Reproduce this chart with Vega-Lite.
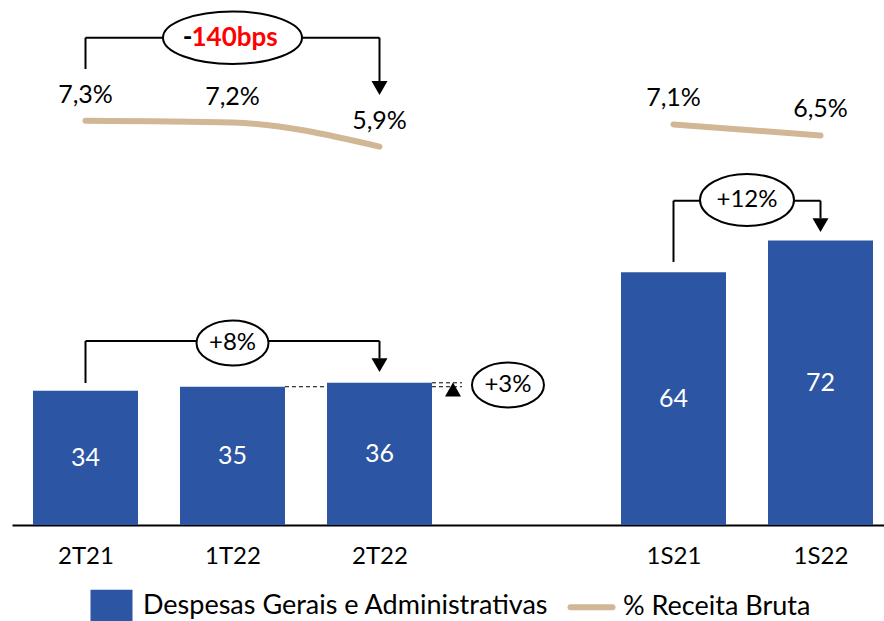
{
  "$schema": "https://vega.github.io/schema/vega-lite/v6.json",
  "width": 872,
  "height": 525,
  "autosize": {"type": "none"},
  "padding": {"left": 12, "top": 0, "right": 0, "bottom": 96},
  "background": "white",
  "config": {
    "view": {"stroke": null},
    "font": "Lato",
    "locale": {"number": {"decimal": ",", "thousands": ".", "grouping": [3], "currency": ["R$", ""]}}
  },
  "datasets": {
    "periodos": [
      {"periodo": "2T21", "ordem": 0, "despesas": 34, "receita": 0.073, "grupo": "trimestre"},
      {"periodo": "1T22", "ordem": 1, "despesas": 35, "receita": 0.072, "grupo": "trimestre"},
      {"periodo": "2T22", "ordem": 2, "despesas": 36, "receita": 0.059, "grupo": "trimestre"},
      {"periodo": "1S21", "ordem": 4, "despesas": 64, "receita": 0.071, "grupo": "semestre"},
      {"periodo": "1S22", "ordem": 5, "despesas": 72, "receita": 0.065, "grupo": "semestre"}
    ],
    "segmentos": [
      {"ordem": 0, "ordem_fim": 2, "nivel": 123.37, "nivel_fim": 123.37},
      {"ordem": 0, "ordem_fim": 0, "nivel": 123.37, "nivel_fim": 115.44},
      {"ordem": 2, "ordem_fim": 2, "nivel": 123.37, "nivel_fim": 112.4},
      {"ordem": 0, "ordem_fim": 2, "nivel": 46.58, "nivel_fim": 46.58},
      {"ordem": 0, "ordem_fim": 0, "nivel": 46.58, "nivel_fim": 35.95},
      {"ordem": 2, "ordem_fim": 2, "nivel": 46.58, "nivel_fim": 42.2},
      {"ordem": 4, "ordem_fim": 5, "nivel": 82.1, "nivel_fim": 82.1},
      {"ordem": 4, "ordem_fim": 4, "nivel": 82.1, "nivel_fim": 66.6},
      {"ordem": 5, "ordem_fim": 5, "nivel": 82.1, "nivel_fim": 77.67}
    ],
    "tracejado": [
      {"ordem": 1.357, "ordem_fim": 2.561, "nivel": 35},
      {"ordem": 2.357, "ordem_fim": 2.561, "nivel": 36}
    ],
    "setas_baixo": [
      {"ordem": 2, "nivel": 110.63},
      {"ordem": 2, "nivel": 40.48},
      {"ordem": 5, "nivel": 75.92}
    ],
    "setas_cima": [
      {"ordem": 2.5, "nivel": 34.3}
    ],
    "bolha_bps": [{"ordem": 1, "nivel": 123.37}],
    "bolha_12": [{"ordem": 4.5, "nivel": 82.28, "rotulo": "+12%"}],
    "bolhas_pequenas": [
      {"ordem": 1, "nivel": 46.08, "rotulo": "+8%"},
      {"ordem": 2.874, "nivel": 35.44, "rotulo": "+3%"}
    ]
  },
  "encoding": {
    "x": {
      "field": "ordem",
      "type": "quantitative",
      "scale": {"domain": [-0.5, 5.432], "nice": false, "zero": false, "padding": 0},
      "axis": {
        "values": [0, 1, 2, 4, 5],
        "labelExpr": "['2T21','1T22','2T22','','1S21','1S22'][datum.value]",
        "title": null,
        "grid": false,
        "ticks": false,
        "tickSize": 0,
        "domainColor": "black",
        "domainWidth": 2,
        "labelFontSize": 24,
        "labelFont": "Lato",
        "labelColor": "black",
        "labelPadding": 19,
        "labelFlush": false,
        "labelOverlap": false
      }
    }
  },
  "resolve": {"scale": {"y": "independent"}},
  "layer": [
    {
      "data": {"name": "tracejado"},
      "mark": {"type": "rule", "color": "black", "strokeWidth": 1, "strokeDash": [4, 3]},
      "encoding": {
        "x2": {"field": "ordem_fim"},
        "y": {"field": "nivel", "type": "quantitative", "scale": {"domain": [0, 132.91], "nice": false}, "axis": null}
      }
    },
    {
      "data": {"name": "periodos"},
      "mark": {"type": "bar", "width": 105},
      "encoding": {
        "y": {"field": "despesas", "type": "quantitative", "scale": {"domain": [0, 132.91], "nice": false}, "axis": null},
        "color": {
          "datum": "Despesas Gerais e Administrativas",
          "scale": {"domain": ["Despesas Gerais e Administrativas", "% Receita Bruta"], "range": ["#2C55A3", "#D1B796"]},
          "legend": {
            "title": null,
            "orient": "none",
            "legendX": 86,
            "legendY": 592,
            "direction": "horizontal",
            "padding": 0,
            "symbolSize": 1764,
            "labelFontSize": 27,
            "labelFont": "Lato",
            "labelColor": "black",
            "labelOffset": 18,
            "labelLimit": 1000,
            "columnPadding": 9,
            "encode": {
              "symbols": {
                "update": {
                  "shape": {"signal": "datum.value === '% Receita Bruta' ? 'M-1,0H1' : 'M-1,-0.76H1V0.76H-1Z'"},
                  "fill": {"signal": "datum.value === '% Receita Bruta' ? 'transparent' : '#2C55A3'"},
                  "stroke": {"signal": "datum.value === '% Receita Bruta' ? '#D1B796' : 'transparent'"},
                  "strokeWidth": {"signal": "datum.value === '% Receita Bruta' ? 6 : 0"},
                  "strokeCap": {"value": "round"},
                  "opacity": {"value": 1},
                  "fillOpacity": {"value": 1},
                  "strokeOpacity": {"value": 1}
                }
              }
            }
          }
        }
      }
    },
    {
      "data": {"name": "periodos"},
      "mark": {"type": "text", "color": "white", "fontSize": 25, "font": "Lato", "baseline": "middle"},
      "encoding": {
        "y": {"field": "despesas", "type": "quantitative", "scale": {"domain": [0, 265.82], "nice": false}, "axis": null},
        "text": {"field": "despesas", "type": "quantitative"}
      }
    },
    {
      "data": {"name": "periodos"},
      "mark": {"type": "line", "strokeWidth": 6, "strokeCap": "round", "interpolate": "monotone"},
      "encoding": {
        "y": {"field": "receita", "type": "quantitative", "scale": {"domain": [-0.14554, 0.13824], "nice": false, "zero": false}, "axis": null},
        "detail": {"field": "grupo"},
        "color": {"datum": "% Receita Bruta"}
      }
    },
    {
      "data": {"name": "periodos"},
      "mark": {"type": "text", "color": "black", "fontSize": 25, "font": "Lato", "baseline": "middle", "dy": -26},
      "encoding": {
        "y": {"field": "receita", "type": "quantitative", "scale": {"domain": [-0.14554, 0.13824], "nice": false, "zero": false}, "axis": null},
        "text": {"field": "receita", "type": "quantitative", "format": ".1%"}
      }
    },
    {
      "data": {"name": "segmentos"},
      "mark": {"type": "rule", "color": "black", "strokeWidth": 2},
      "encoding": {
        "x2": {"field": "ordem_fim"},
        "y": {"field": "nivel", "type": "quantitative", "scale": {"domain": [0, 132.91], "nice": false}, "axis": null},
        "y2": {"field": "nivel_fim"}
      }
    },
    {
      "data": {"name": "setas_baixo"},
      "mark": {"type": "point", "shape": "triangle-down", "size": 256, "filled": true, "color": "black", "opacity": 1},
      "encoding": {
        "y": {"field": "nivel", "type": "quantitative", "scale": {"domain": [0, 132.91], "nice": false}, "axis": null}
      }
    },
    {
      "data": {"name": "setas_cima"},
      "mark": {"type": "point", "shape": "triangle-up", "size": 256, "filled": true, "color": "black", "opacity": 1},
      "encoding": {
        "y": {"field": "nivel", "type": "quantitative", "scale": {"domain": [0, 132.91], "nice": false}, "axis": null}
      }
    },
    {
      "data": {"name": "bolha_bps"},
      "mark": {"type": "point", "shape": "M1,0C1,0.2082,0.5523,0.377,0,0.377C-0.5523,0.377,-1,0.2082,-1,0C-1,-0.2082,-0.5523,-0.377,0,-0.377C0.5523,-0.377,1,-0.2082,1,0Z", "size": 19321, "filled": true, "fill": "white", "stroke": "black", "strokeWidth": 2, "opacity": 1},
      "encoding": {
        "y": {"field": "nivel", "type": "quantitative", "scale": {"domain": [0, 132.91], "nice": false}, "axis": null}
      }
    },
    {
      "data": {"name": "bolha_12"},
      "mark": {"type": "point", "shape": "M1,0C1,0.3054,0.5523,0.553,0,0.553C-0.5523,0.553,-1,0.3054,-1,0C-1,-0.3054,-0.5523,-0.553,0,-0.553C0.5523,-0.553,1,-0.3054,1,0Z", "size": 8836, "filled": true, "fill": "white", "stroke": "black", "strokeWidth": 2, "opacity": 1},
      "encoding": {
        "y": {"field": "nivel", "type": "quantitative", "scale": {"domain": [0, 132.91], "nice": false}, "axis": null}
      }
    },
    {
      "data": {"name": "bolhas_pequenas"},
      "mark": {"type": "point", "shape": "M1,0C1,0.3452,0.5523,0.625,0,0.625C-0.5523,0.625,-1,0.3452,-1,0C-1,-0.3452,-0.5523,-0.625,0,-0.625C0.5523,-0.625,1,-0.3452,1,0Z", "size": 5184, "filled": true, "fill": "white", "stroke": "black", "strokeWidth": 2, "opacity": 1},
      "encoding": {
        "y": {"field": "nivel", "type": "quantitative", "scale": {"domain": [0, 132.91], "nice": false}, "axis": null}
      }
    },
    {
      "data": {"name": "bolhas_pequenas"},
      "mark": {"type": "text", "color": "black", "fontSize": 24, "font": "Lato", "baseline": "middle"},
      "encoding": {
        "y": {"field": "nivel", "type": "quantitative", "scale": {"domain": [0, 132.91], "nice": false}, "axis": null},
        "text": {"field": "rotulo"}
      }
    },
    {
      "data": {"name": "bolha_12"},
      "mark": {"type": "text", "color": "black", "fontSize": 24, "font": "Lato", "baseline": "middle"},
      "encoding": {
        "y": {"field": "nivel", "type": "quantitative", "scale": {"domain": [0, 132.91], "nice": false}, "axis": null},
        "text": {"field": "rotulo"}
      }
    },
    {
      "data": {"name": "bolha_bps"},
      "mark": {"type": "text", "color": "black", "fontSize": 26, "fontWeight": "bold", "font": "Lato", "baseline": "middle", "align": "right", "dx": -40, "text": "-"},
      "encoding": {
        "y": {"field": "nivel", "type": "quantitative", "scale": {"domain": [0, 132.91], "nice": false}, "axis": null}
      }
    },
    {
      "data": {"name": "bolha_bps"},
      "mark": {"type": "text", "color": "#FF0000", "fontSize": 26, "fontWeight": "bold", "font": "Lato", "baseline": "middle", "align": "left", "dx": -41, "text": "140bps"},
      "encoding": {
        "y": {"field": "nivel", "type": "quantitative", "scale": {"domain": [0, 132.91], "nice": false}, "axis": null}
      }
    }
  ]
}
